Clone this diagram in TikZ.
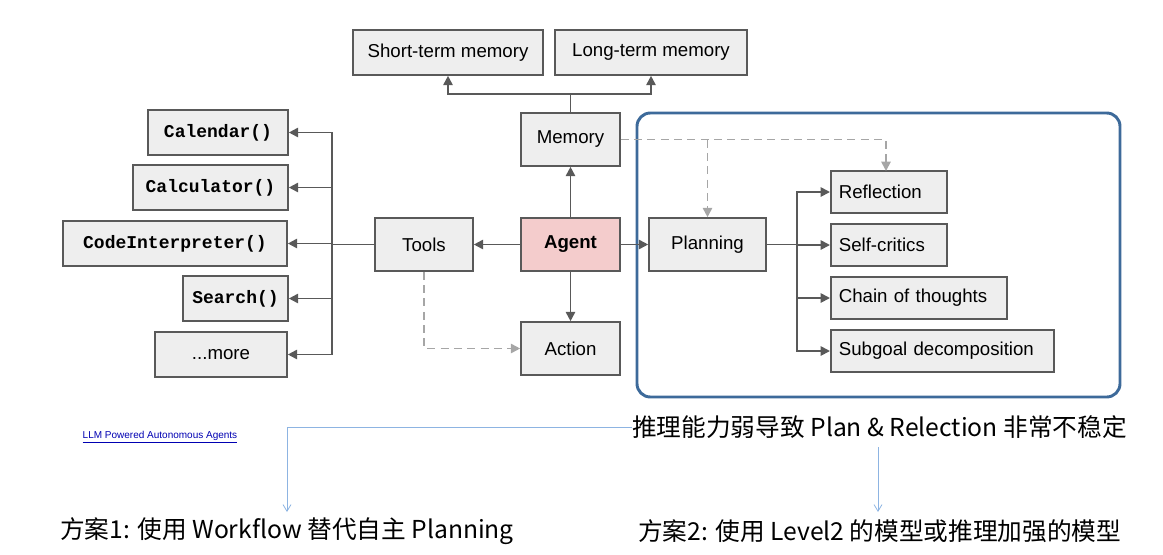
\documentclass[tikz,border=0pt]{standalone}
\usepackage{fontspec}
\setmainfont{Liberation Sans}
\newfontfamily\cjk{Noto Sans CJK SC}
\newfontfamily\monob{Liberation Mono}
\usetikzlibrary{arrows.meta}
\definecolor{bx}{HTML}{EEEEEE}
\definecolor{ln}{HTML}{595959}
\definecolor{pk}{HTML}{F4CCCC}
\definecolor{bl}{HTML}{3D6A9A}
\definecolor{lb}{HTML}{8DB4E2}
\begin{document}
\begin{tikzpicture}[x=0.75pt,y=-0.75pt,
 box/.style={draw=ln,line width=1.2pt,fill=bx,font=\fontsize{14}{16}\selectfont,inner sep=0pt},
 fn/.style={box,font=\monob\bfseries\fontsize{13.5}{15}\selectfont},
 ar/.style={draw=ln,line width=1.3pt,-{Triangle[length=7pt,width=7pt]}},
 da/.style={draw=gray!70,line width=1.3pt,dash pattern=on 6pt off 4pt,-{Triangle[length=7pt,width=7pt]}},
 tl/.style={draw=lb,line width=0.6pt,-{Straight Barb[length=5pt,width=6pt]}},
 cj/.style={font=\cjk\fontsize{18.5}{21}\selectfont,inner sep=0pt,anchor=west}]
\useasboundingbox (0,0) rectangle (1163,554);
\newcommand\bx[6]{\node[#1,minimum width={(#4-#3)*0.75pt},minimum height={(#6-#5)*0.75pt}] (#2) at ({(#3+#4)/2},{(#5+#6)/2})}
\newcommand\lb[6]{\node[#1,anchor=west,minimum width={(#4-#3)*0.75pt},minimum height={(#6-#5)*0.75pt},text width={(#4-#3-16)*0.75pt},align=left] (#2) at (#3,{(#5+#6)/2})}
\bx{box}{stm}{353}{543}{30}{75}{Short-term memory};
\bx{box}{ltm}{555}{747}{30}{75}{Long-term memory};
\bx{box}{mem}{521}{620}{113}{166}{Memory};
\bx{box,fill=pk}{agent}{521}{620}{218}{271}{\textbf{Agent}};
\bx{box}{tools}{375}{473}{218}{271}{Tools};
\bx{box}{action}{521}{620}{322}{375}{Action};
\bx{box}{plan}{649}{766}{218}{271}{Planning};
\lb{box}{refl}{830}{946}{171}{213}{Reflection};
\lb{box}{self}{830}{946}{224}{266}{Self-critics};
\lb{box}{chain}{830}{1006}{277}{319}{Chain of thoughts};
\lb{box}{sub}{830}{1053}{330}{372}{Subgoal decomposition};
\bx{fn}{cal}{148}{288}{110}{155}{Calendar()};
\bx{fn}{calc}{133}{288}{165}{210}{Calculator()};
\bx{fn}{code}{63}{287}{221}{266}{CodeInterpreter()};
\bx{fn}{search}{183}{288}{276}{321}{Search()};
\bx{box}{more}{155}{287}{332}{377}{...more};
\draw[draw=bl,line width=2.2pt,rounded corners=10] (637,113) rectangle (1120,397);
% memory
\coordinate (mj) at (mem.north|-0,94);
\draw[draw=ln,line width=1.3pt] (mem.north) -- (mj);
\draw[ar] (mj) -| (stm.south);
\draw[ar] (mj) -| (ltm.south);
\draw[ar] (agent) -- (mem);
\draw[ar] (agent) -- (action);
\draw[ar] (agent) -- (tools);
\draw[ar] (agent) -- (plan);
% tools
\coordinate (tj) at (tools.west-|332,0);
\draw[draw=ln,line width=1.3pt] (tools.west) -- (tj);
\foreach \n in {cal,calc,code,search,more}{\draw[ar] (tj) |- (\n.east);}
\draw[da] (tools.south) |- (action.west);
% dashed memory-planning
\coordinate (dj) at (mem.east-|plan.north);
\draw[da] (mem.east) -| (886,171);
\draw[da] (dj) -- (plan.north);
% planning
\coordinate (pj) at (plan.east-|797,0);
\draw[draw=ln,line width=1.3pt] (plan.east) -- (pj);
\foreach \n in {refl,self,chain,sub}{\draw[ar] (pj) |- (\n.west);}
% bottom
\node[font=\fontsize{7.5}{9}\selectfont,text=blue!70!black] (link) at (160,437) {\underline{LLM Powered Autonomous Agents}};
\node[cj] (prob) at (632,427) {推理能力弱导致 Plan \& Relection 非常不稳定};
\node[cj] (s1) at (60,531) {方案1: 使用 Workflow 替代自主 Planning};
\node[cj] (s2) at (638,531) {方案2: 使用 Level2 的模型或推理加强的模型};
\draw[tl] (prob.west) -| (287,512);
\draw[tl] (878,447) -- (878,512);
\end{tikzpicture}
\end{document}
